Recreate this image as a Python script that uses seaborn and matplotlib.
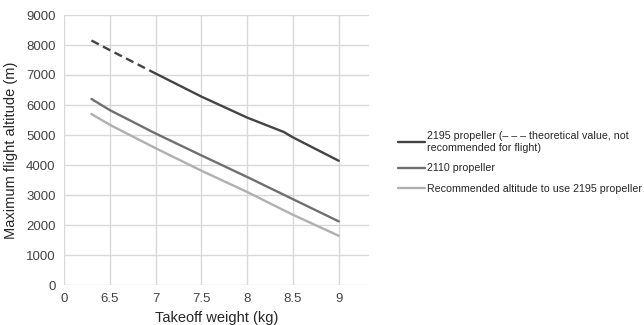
import pandas as pd
import matplotlib
matplotlib.use("Agg")
import matplotlib.pyplot as plt
import seaborn as sns
from matplotlib.lines import Line2D

# data
weight = [6.3, 6.5, 7.0, 7.5, 8.0, 8.4, 8.5, 9.0]
alt_2195 = [8150, 7830, 7050, 6280, 5580, 5100, 4920, 4140]
weight_b = [6.3, 6.5, 7.0, 7.5, 8.0, 8.5, 9.0]
alt_2110 = [6200, 5830, 5050, 4320, 3600, 2860, 2120]
alt_recommended = [5700, 5340, 4560, 3810, 3100, 2340, 1640]
theoretical_until = 7.0

x_ticks = [6.0, 6.5, 7.0, 7.5, 8.0, 8.5, 9.0]
x_tick_labels = ["0", "6.5", "7", "7.5", "8", "8.5", "9"]
y_ticks = [0, 1000, 2000, 3000, 4000, 5000, 6000, 7000, 8000, 9000]

label_2195 = "2195 propeller (\u2013 \u2013 \u2013 theoretical value, not\nrecommended for flight)"
label_2110 = "2110 propeller"
label_rec = "Recommended altitude to use 2195 propeller"

c_dark, c_mid, c_light = "#444444", "#707070", "#b0b0b0"

sns.set_style("white")
plt.rcParams["font.family"] = ["Liberation Sans", "DejaVu Sans"]

df_a = pd.DataFrame({"w": weight, "alt": alt_2195})
dashed = df_a[df_a["w"] <= theoretical_until]
solid = df_a[df_a["w"] >= theoretical_until]
df_b = pd.DataFrame({"w": weight_b, "a2110": alt_2110, "rec": alt_recommended})

fig = plt.figure(figsize=(6.44, 3.25), dpi=100)
ax = fig.add_axes([64 / 644, 40 / 325, 305 / 644, 270 / 325])

sns.lineplot(data=dashed, x="w", y="alt", ax=ax, color=c_dark, lw=1.7, linestyle=(0, (3.5, 2)))
sns.lineplot(data=solid, x="w", y="alt", ax=ax, color=c_dark, lw=1.7)
sns.lineplot(data=df_b, x="w", y="a2110", ax=ax, color=c_mid, lw=1.7)
sns.lineplot(data=df_b, x="w", y="rec", ax=ax, color=c_light, lw=1.7)

ax.set_xlim(6.0, 9.33)
ax.set_ylim(0, 9000)
ax.set_xticks(x_ticks)
ax.set_xticklabels(x_tick_labels)
ax.set_yticks(y_ticks)
ax.grid(True, color="#d9d9d9", lw=1)
ax.set_axisbelow(True)
for s in ax.spines.values():
    s.set_visible(False)
ax.tick_params(length=0, labelsize=9.5, colors="#444444", pad=6)
ax.set_xlabel("Takeoff weight (kg)", fontsize=10.5, labelpad=4)
ax.set_ylabel("Maximum flight altitude (m)", fontsize=10.5, labelpad=6)

handles = [Line2D([], [], color=c, lw=1.7) for c in (c_dark, c_mid, c_light)]
fig.legend(handles, [label_2195, label_2110, label_rec], loc="center left",
           bbox_to_anchor=(388 / 644, 0.5), frameon=False, fontsize=7.7,
           handlelength=2.6, handletextpad=0.12, labelspacing=1.0)

fig.savefig("out.png", dpi=100)
